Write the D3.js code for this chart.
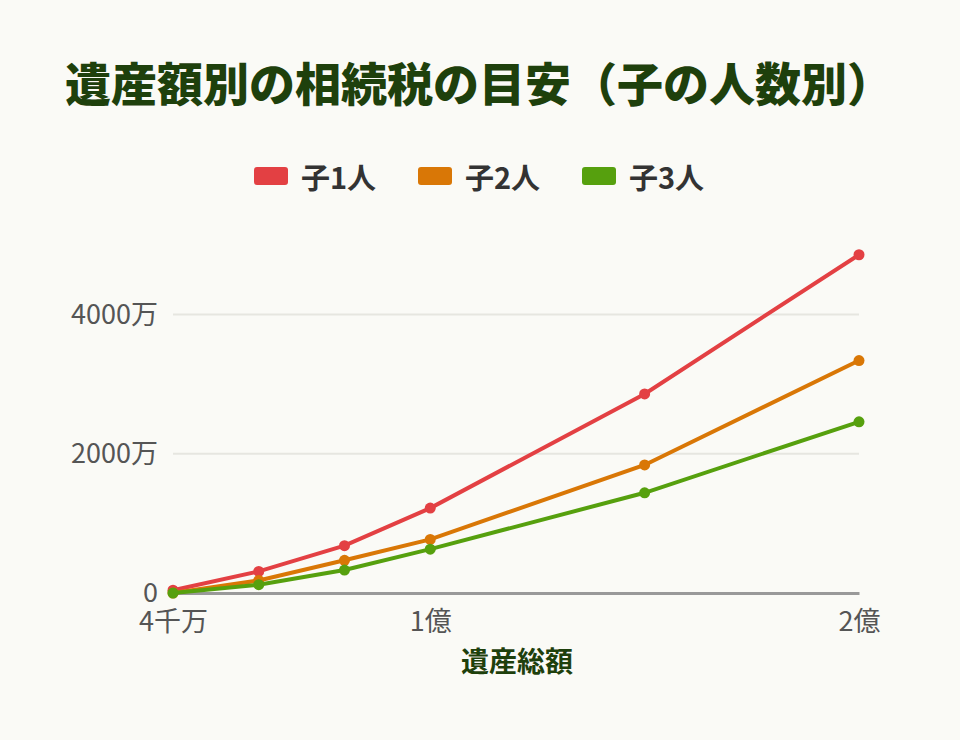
<!DOCTYPE html>
<html>
<head>
<meta charset="utf-8">
<script src="https://cdn.jsdelivr.net/npm/d3@7"></script>
<style>
  html, body { margin: 0; padding: 0; background: #fafaf6; }
  svg { display: block; font-family: "Noto Sans CJK JP", "Noto Sans", sans-serif; }
</style>
</head>
<body>
<svg id="chart" width="960" height="740"></svg>
<script>
// 遺産総額（万円）
var estate = [4000, 6000, 8000, 10000, 15000, 20000];
var seriesNames = ["子1人", "子2人", "子3人"];
var tax1 = [40, 310, 680, 1220, 2860, 4860];
var tax2 = [0, 180, 470, 770, 1840, 3340];
var tax3 = [0, 120, 330, 630, 1440, 2460];
var xTicks = [4000, 10000, 20000];
var xTickLabels = ["4千万", "1億", "2億"];
var yTicks = [0, 2000, 4000];
var yTickLabels = ["0", "2000万", "4000万"];

var colors = ["#e34043", "#d97706", "#56a00e"];
var allTax = [tax1, tax2, tax3];

var svg = d3.select("#chart");
var width = 960, height = 740;
var margin = {left: 173, right: 101, top: 245, bottom: 147};

var x = d3.scaleLinear()
    .domain([4000, 20000])
    .range([margin.left, width - margin.right]);
var y = d3.scaleLinear()
    .domain([0, 5000])
    .range([height - margin.bottom, margin.top]);

// title
svg.append("text")
    .attr("x", 479)
    .attr("y", 101)
    .attr("text-anchor", "middle")
    .attr("font-size", 46)
    .attr("font-weight", 900)
    .attr("fill", "#1e400c")
    .text("遺産額別の相続税の目安（子の人数別）");

// legend
var legend = svg.append("g").attr("class", "legend");
seriesNames.forEach(function(name, i) {
  var g = legend.append("g").attr("transform", "translate(" + (254 + i * 164) + ",0)");
  g.append("rect")
      .attr("x", 0).attr("y", 167)
      .attr("width", 34).attr("height", 18)
      .attr("rx", 3)
      .attr("fill", colors[i]);
  g.append("text")
      .attr("x", 47).attr("y", 189)
      .attr("font-size", 29)
      .attr("font-weight", 700)
      .attr("fill", "#333")
      .text(name);
});

// grid
var grid = svg.append("g").attr("class", "grid");
grid.selectAll("line")
    .data(yTicks.filter(function(d) { return d > 0; }))
    .enter().append("line")
    .attr("x1", x.range()[0]).attr("x2", x.range()[1])
    .attr("y1", function(d) { return y(d); })
    .attr("y2", function(d) { return y(d); })
    .attr("stroke", "#e6e6e0")
    .attr("stroke-width", 2);

// y axis
var yAxis = d3.axisLeft(y)
    .tickValues(yTicks)
    .tickSize(0)
    .tickPadding(15)
    .tickFormat(function(d, i) { return yTickLabels[i]; });
svg.append("g")
    .attr("class", "axis axis--y")
    .attr("transform", "translate(" + margin.left + ",0)")
    .call(yAxis)
    .call(function(g) { g.select(".domain").remove(); })
    .selectAll("text")
    .attr("font-size", 27)
    .attr("font-family", "'Noto Sans CJK JP', sans-serif")
    .attr("fill", "#555");

// x axis
var xAxis = d3.axisBottom(x)
    .tickValues(xTicks)
    .tickSize(0)
    .tickPadding(19)
    .tickFormat(function(d, i) { return xTickLabels[i]; });
var xg = svg.append("g")
    .attr("class", "axis axis--x")
    .attr("transform", "translate(0," + y(0) + ")")
    .call(xAxis);
xg.select(".domain").attr("stroke", "#999").attr("stroke-width", 3);
xg.selectAll("text")
    .attr("font-size", 27)
    .attr("font-family", "'Noto Sans CJK JP', sans-serif")
    .attr("fill", "#555");

svg.append("text")
    .attr("x", 517)
    .attr("y", 672)
    .attr("text-anchor", "middle")
    .attr("font-size", 28)
    .attr("font-weight", 700)
    .attr("fill", "#1e400c")
    .text("遺産総額");

// lines
var line = d3.line()
    .x(function(d, i) { return x(estate[i]); })
    .y(function(d) { return y(d); });

allTax.forEach(function(vals, s) {
  var g = svg.append("g").attr("class", "series");
  g.append("path")
      .datum(vals)
      .attr("fill", "none")
      .attr("stroke", colors[s])
      .attr("stroke-width", 4)
      .attr("d", line);
  g.selectAll("circle")
      .data(vals)
      .enter().append("circle")
      .attr("cx", function(d, i) { return x(estate[i]); })
      .attr("cy", function(d) { return y(d); })
      .attr("r", 5.5)
      .attr("fill", colors[s]);
});
</script>
</body>
</html>
